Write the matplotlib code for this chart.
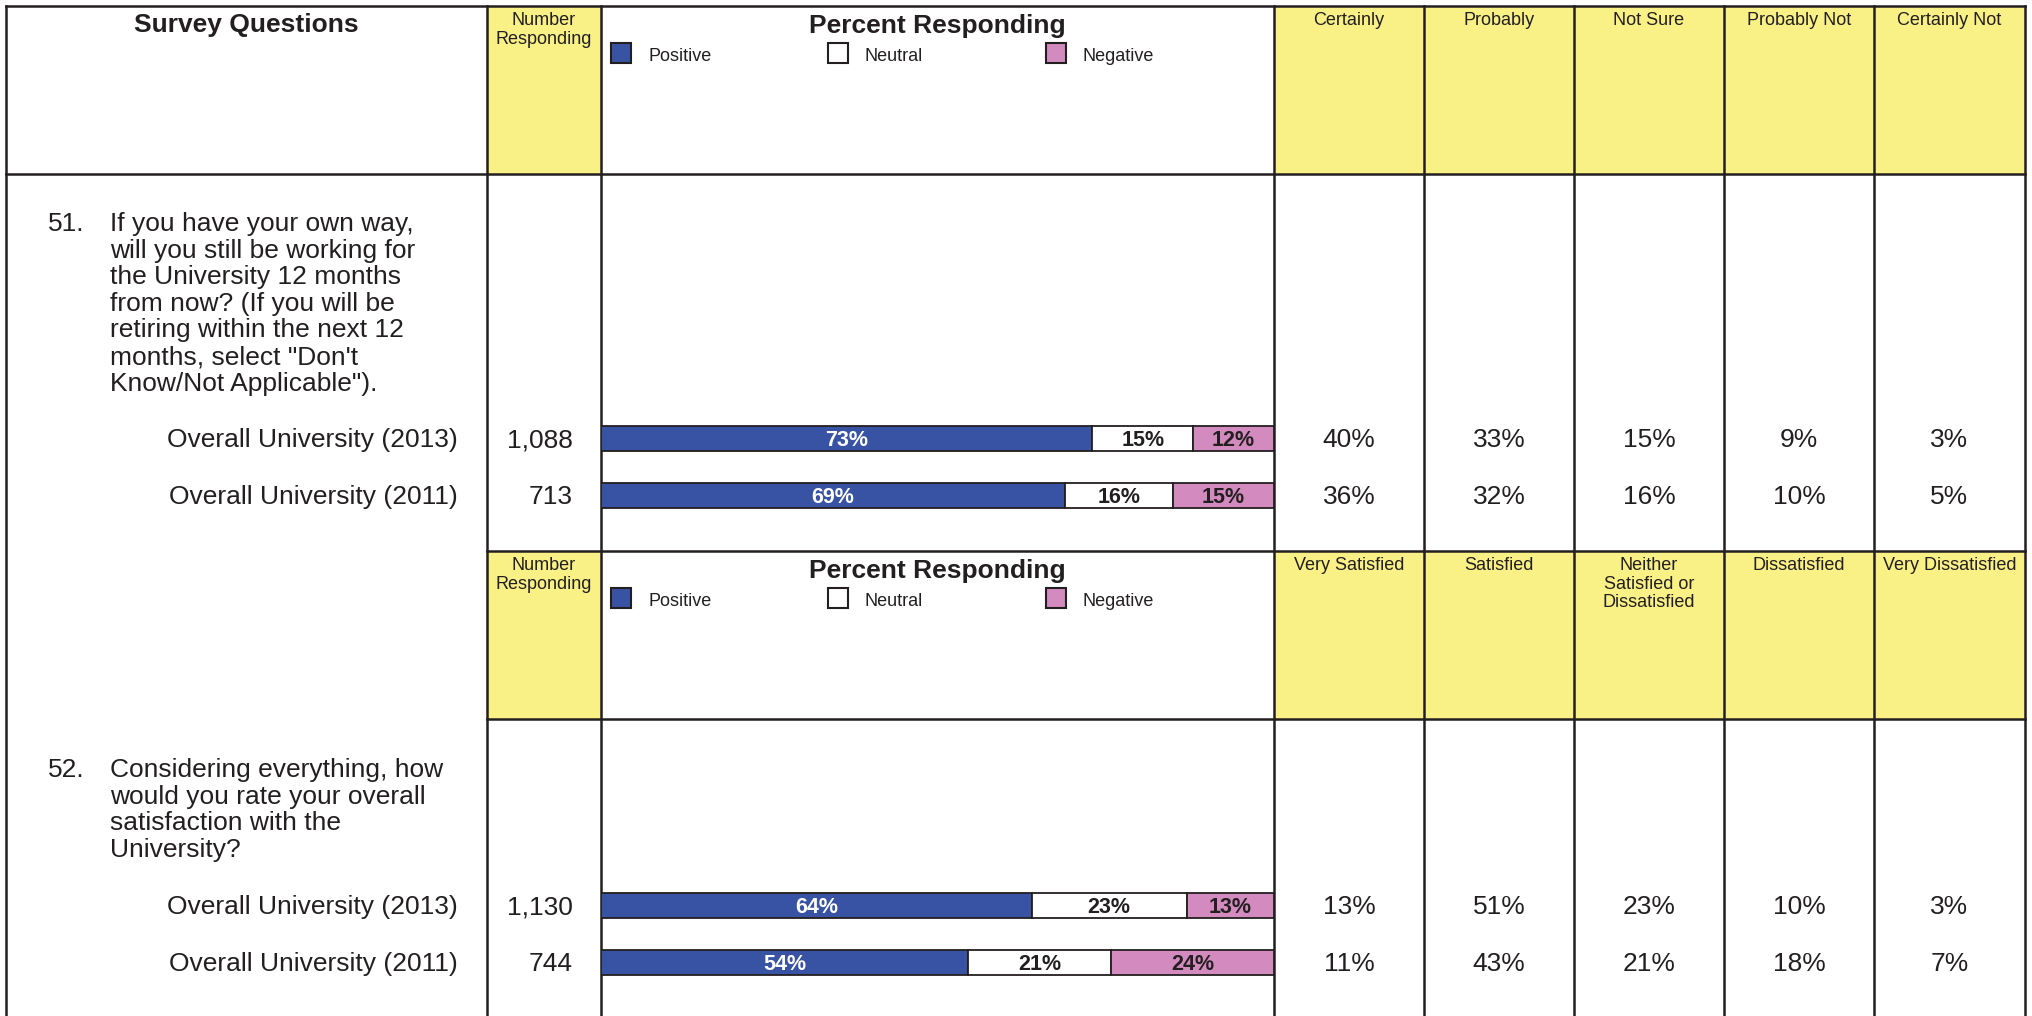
import matplotlib
matplotlib.use("Agg")
import matplotlib.pyplot as plt
from matplotlib import font_manager
from matplotlib.patches import Rectangle

# ---- data ----
question_numbers = ["51.", "52."]
question_lines = [
    ["If you have your own way,",
     "will you still be working for",
     "the University 12 months",
     "from now? (If you will be",
     "retiring within the next 12",
     "months, select \"Don't",
     "Know/Not Applicable\")."],
    ["Considering everything, how",
     "would you rate your overall",
     "satisfaction with the",
     "University?"],
]
row_labels = ["Overall University (2013)", "Overall University (2011)"]
n_responding = [["1,088", "713"], ["1,130", "744"]]
positive = [[73, 69], [64, 54]]
neutral = [[15, 16], [23, 21]]
negative = [[12, 15], [13, 24]]
scale_labels = [
    ["Certainly", "Probably", "Not Sure", "Probably Not", "Certainly Not"],
    ["Very Satisfied", "Satisfied", "Neither\nSatisfied or\nDissatisfied",
     "Dissatisfied", "Very Dissatisfied"],
]
scale_values = [
    [[40, 33, 15, 9, 3], [36, 32, 16, 10, 5]],
    [[13, 51, 23, 10, 3], [11, 43, 21, 18, 7]],
]
legend_labels = ["Positive", "Neutral", "Negative"]

# ---- style / layout (pixels, top-down) ----
W, H = 2032, 1016
LINE = "#231f20"
YELLOW = "#f9f086"
BLUE = "#3953a4"
PINK = "#d38bbf"
legend_colors = [BLUE, "white", PINK]

col_x = [6, 487, 601, 1274, 1424, 1574, 1724, 1874, 2025]
header_tops = [6, 551]
header_h = 168
bar_centers = [[438, 495], [905, 962]]
q_first_baseline = [231, 777]
q_step = 26.6
bar_h = 25


def has_font(name):
    try:
        font_manager.findfont(name, fallback_to_default=False)
        return True
    except ValueError:
        return False


plt.rcParams["font.family"] = ["Liberation Sans", "DejaVu Sans"]
has_narrow = has_font("Liberation Sans Narrow")
NARROW = ["Liberation Sans Narrow", "Liberation Sans"] if has_narrow else ["Liberation Sans"]
bar_fs = 18 if has_narrow else 15.5
head_fs = 14.5 if has_narrow else 13
leg_fs = 14.5 if has_narrow else 13

BODY = 19
px = 100 / 72  # pixels per point


def cap_off(fs):
    return 0.716 * fs * px / 2


fig = plt.figure(figsize=(W / 100, H / 100), dpi=100)
ax = fig.add_axes([0, 0, 1, 1])
ax.set_xlim(0, W)
ax.set_ylim(H, 0)
ax.axis("off")

# yellow header cells
for top in header_tops:
    ax.add_patch(Rectangle((col_x[1], top), col_x[2] - col_x[1], header_h,
                           facecolor=YELLOW, edgecolor="none", zorder=0))
    ax.add_patch(Rectangle((col_x[3], top), col_x[-1] - col_x[3], header_h,
                           facecolor=YELLOW, edgecolor="none", zorder=0))

# grid lines
lw = 1.8
ax.plot([col_x[0], col_x[-1]], [6, 6], color=LINE, lw=lw, solid_capstyle="projecting")
ax.plot([col_x[0], col_x[-1]], [6 + header_h] * 2, color=LINE, lw=lw)
for top in header_tops[1:]:
    ax.plot([col_x[1], col_x[-1]], [top, top], color=LINE, lw=lw)
    ax.plot([col_x[1], col_x[-1]], [top + header_h] * 2, color=LINE, lw=lw)
for x in col_x:
    ax.plot([x, x], [6, H], color=LINE, lw=lw)

# header texts
ax.text((col_x[0] + col_x[1]) / 2, 32, "Survey Questions", ha="center", va="baseline",
        fontsize=BODY, fontweight="bold", color=LINE)
for b, top in enumerate(header_tops):
    # Number Responding
    for i, line in enumerate(["Number", "Responding"]):
        ax.text((col_x[1] + col_x[2]) / 2, top + 19 + i * 19, line, ha="center",
                va="baseline", fontsize=head_fs, color=LINE, family=NARROW)
    ax.text((col_x[2] + col_x[3]) / 2, top + 27, "Percent Responding", ha="center",
            va="baseline", fontsize=BODY, fontweight="bold", color=LINE)
    for lx, lab, colr in zip([611, 828, 1046], legend_labels, legend_colors):
        ax.add_patch(Rectangle((lx, top + 37), 20, 20, facecolor=colr,
                               edgecolor=LINE, lw=1.5))
        ax.text(lx + 37, top + 55, lab, ha="left", va="baseline", fontsize=leg_fs,
                color=LINE, family=NARROW)
    for k, lab in enumerate(scale_labels[b]):
        cx = (col_x[3 + k] + col_x[4 + k]) / 2
        for i, line in enumerate(lab.split("\n")):
            ax.text(cx, top + 19 + i * 18.7, line, ha="center", va="baseline",
                    fontsize=head_fs, color=LINE, family=NARROW)

# data blocks
for b in range(len(question_numbers)):
    ax.text(48, q_first_baseline[b], question_numbers[b], ha="left", va="baseline",
            fontsize=BODY, color=LINE)
    for i, line in enumerate(question_lines[b]):
        ax.text(110, q_first_baseline[b] + i * q_step, line, ha="left",
                va="baseline", fontsize=BODY, color=LINE)

    for r, cy in enumerate(bar_centers[b]):
        base = cy + cap_off(BODY)
        ax.text(458, base, row_labels[r], ha="right", va="baseline",
                fontsize=BODY, color=LINE)
        ax.text(573, base, n_responding[b][r], ha="right", va="baseline",
                fontsize=BODY, color=LINE)
        for k, v in enumerate(scale_values[b][r]):
            cx = (col_x[3 + k] + col_x[4 + k]) / 2
            ax.text(cx, base, f"{v}%", ha="center", va="baseline",
                    fontsize=BODY, color=LINE)

    # stacked bars in their own axes; each row scaled to fill 0-100
    top = header_tops[b] + header_h
    bottom = header_tops[b + 1] if b + 1 < len(header_tops) else H
    bax = fig.add_axes([col_x[2] / W, 1 - bottom / H,
                        (col_x[3] - col_x[2]) / W, (bottom - top) / H])
    bax.set_xlim(0, 100)
    bax.set_ylim(bottom, top)
    bax.axis("off")
    pos, neu, neg = positive[b], neutral[b], negative[b]
    totals = [p + n + g for p, n, g in zip(pos, neu, neg)]
    left = [0.0] * len(pos)
    for series, colr, tcol in zip([pos, neu, neg], legend_colors,
                                  ["white", LINE, LINE]):
        widths = [100 * v / t for v, t in zip(series, totals)]
        bax.barh(bar_centers[b], widths, left=left, height=bar_h, color=colr,
                 edgecolor=LINE, lw=1.3)
        for cy, w, l, v in zip(bar_centers[b], widths, left, series):
            bax.text(l + w / 2, cy + cap_off(bar_fs), f"{v}%", ha="center",
                     va="baseline", fontsize=bar_fs, fontweight="bold",
                     color=tcol, family=NARROW)
        left = [l + w for l, w in zip(left, widths)]

fig.savefig("out.png", dpi=100)
